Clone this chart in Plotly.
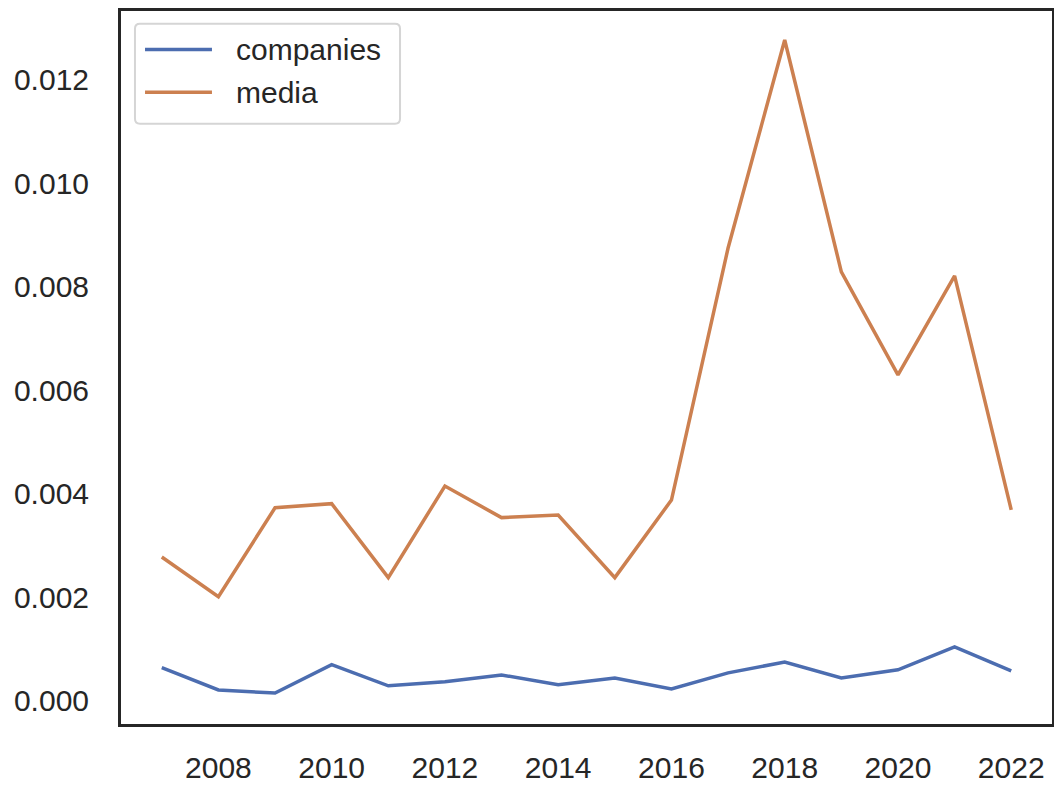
import plotly.graph_objects as go

years = list(range(2007, 2023))
companies = [0.00064, 0.00021, 0.00015, 0.00070, 0.00029, 0.00037, 0.00050, 0.00031,
             0.00044, 0.00023, 0.00054, 0.00075, 0.00044, 0.00060, 0.00104, 0.00058]
media = [0.00278, 0.00201, 0.00373, 0.00381, 0.00238, 0.00415, 0.00354, 0.00359,
         0.00238, 0.00388, 0.00875, 0.01277, 0.00829, 0.00630, 0.00821, 0.00369]

series_names = ["companies", "media"]
series_colors = ["#4C6DB0", "#CC8050"]

x_ticks = [2008, 2010, 2012, 2014, 2016, 2018, 2020, 2022]
y_ticks = [0.000, 0.002, 0.004, 0.006, 0.008, 0.010, 0.012]

FONT = "Liberation Sans, Arial, sans-serif"
TXT = "#262626"

fig = go.Figure()
for name, vals, col in zip(series_names, [companies, media], series_colors):
    fig.add_trace(go.Scatter(x=years, y=vals, mode="lines", name=name,
                             line=dict(color=col, width=3.5), showlegend=False))

# manual legend (box, sample lines, labels) in paper coordinates
def rounded_rect(x0, y0, x1, y1, rx, ry):
    return (f"M{x0+rx},{y0} L{x1-rx},{y0} Q{x1},{y0} {x1},{y0+ry} "
            f"L{x1},{y1-ry} Q{x1},{y1} {x1-rx},{y1} L{x0+rx},{y1} "
            f"Q{x0},{y1} {x0},{y1-ry} L{x0},{y0+ry} Q{x0},{y0} {x0+rx},{y0} Z")

shapes = [dict(type="path", xref="paper", yref="paper",
               path=rounded_rect(0.0150, 0.8419, 0.2997, 0.9821, 0.0054, 0.0070),
               line=dict(color="#D5D5D5", width=2), fillcolor="white")]
annotations = []
row_y = [0.9460, 0.8862]
for i, (name, col) in enumerate(zip(series_names, series_colors)):
    yy = row_y[i]
    shapes.append(dict(type="line", xref="paper", yref="paper",
                       x0=0.0258, x1=0.0977, y0=yy, y1=yy,
                       line=dict(color=col, width=3.5)))
    annotations.append(dict(xref="paper", yref="paper", x=0.1215, y=yy,
                            xanchor="left", yanchor="middle", text=name,
                            showarrow=False, font=dict(size=30, color=TXT)))

fig.update_layout(
    width=1054, height=777,
    margin=dict(l=113, r=10, t=3, b=61),
    paper_bgcolor="white", plot_bgcolor="white",
    font=dict(family=FONT, size=30, color=TXT),
    showlegend=False,
    shapes=shapes, annotations=annotations,
    xaxis=dict(range=[2006.28, 2022.72], tickvals=x_ticks,
               ticktext=[str(v) for v in x_ticks], showgrid=False, zeroline=False,
               showline=True, linecolor=TXT, linewidth=3, mirror=True,
               ticks="", ticklabelstandoff=15, automargin=False),
    yaxis=dict(range=[-0.000448, 0.01333], tickvals=y_ticks,
               ticktext=[f"{v:.3f}" for v in y_ticks], showgrid=False, zeroline=False,
               showline=True, linecolor=TXT, linewidth=3, mirror=True,
               ticks="", ticklabelstandoff=23, automargin=False),
)

fig.write_html("out.html")
